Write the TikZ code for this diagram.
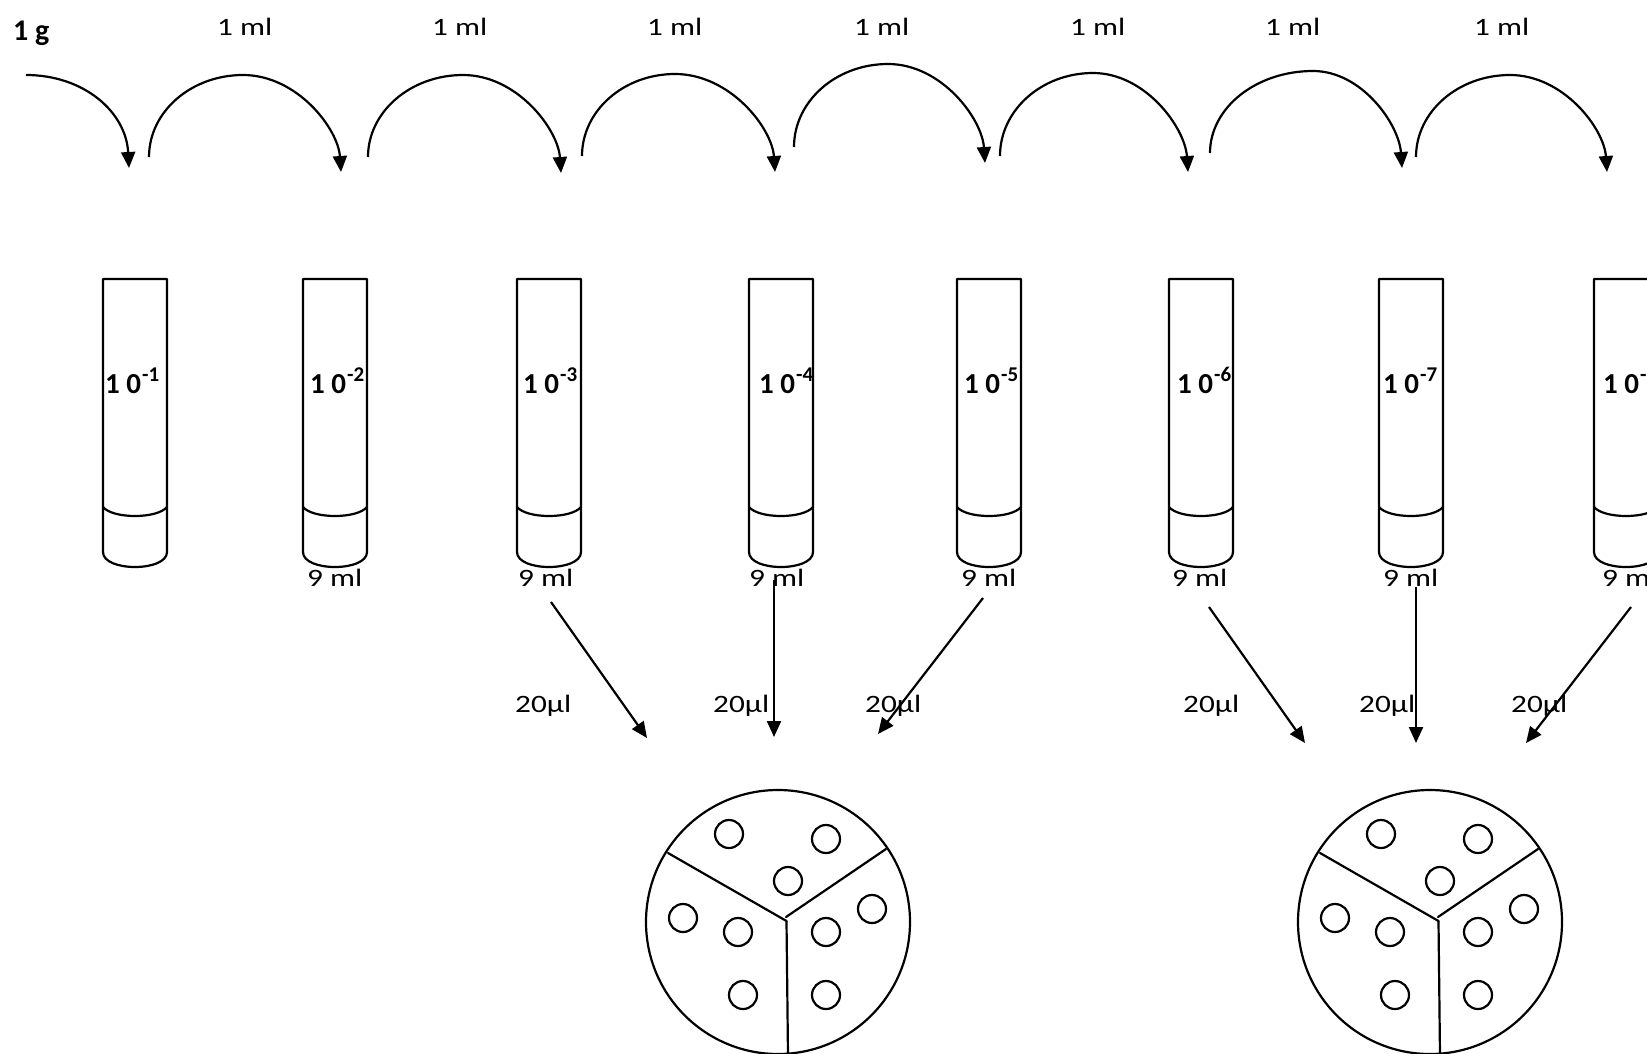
\documentclass[tikz,border=0pt]{standalone}
\usepackage{fontspec}
\setmainfont{Carlito}
\newfontfamily\lblfont{Carlito}[FakeStretch=1.25]
\usetikzlibrary{arrows.meta}
\tikzset{
  ln/.style={line width=2.2pt, line cap=round, line join=round},
  arr/.style={line width=2.2pt, -{Triangle[length=16pt,width=14pt]}},
  mltext/.style={anchor=base west, inner sep=0pt, font=\lblfont\fontsize{25}{30}\selectfont},
  tubelbl/.style={anchor=base west, inner sep=0pt, font=\bfseries\fontsize{29}{32}\selectfont},
  colony/.style={line width=2.2pt},
}
\newcommand\mytube[4]{%
  \draw[ln] (#2,552) -- (#2,279) -- ({#2+64},279) -- ({#2+64},552)
     .. controls ({#2+64},572) and (#2,572) .. (#2,552);
  \draw[ln] (#2,507) .. controls ({#2+10},519) and ({#2+54},519) .. ({#2+64},507);
  \node[tubelbl] (#1) at (#4,393) {1 0\hspace{1pt}\raisebox{12pt}{\fontsize{21}{22}\selectfont -#3}};
}
\newcommand\myarc[7]{%
  \coordinate (#1s) at (#2,#3);
  \coordinate (#1e) at (#6,#7);
  \draw[arr] (#1s) .. controls (#2,{#3-0.552*(#3-#5)}) and ({#4-0.552*(#4-#2)},#5) .. (#4,#5)
     .. controls ({#4+0.552*(#6-#4)},#5) and ({#6-3},{#5+0.552*(#7-#5)}) .. (#1e);
}
\newcommand\mydish[2]{%
  \begin{scope}[xshift=#2pt]
    \node[circle, draw, line width=2.2pt, minimum size=264pt, inner sep=0pt] (#1) at (778,922) {};
    \coordinate (#1c) at (786.5,921);
    \coordinate (#1l) at (668,853);
    \coordinate (#1r) at (886,849);
    \coordinate (#1b) at (788,1056);
    \draw[ln] (#1l) -- (#1c);
    \draw[ln] (786,917) -- (#1r);
    \draw[ln] (#1c) -- (#1b);
    \foreach \cx/\cy in {729/834, 826/839, 788/881, 683/918, 738/932, 872/909, 826/932, 743/995, 826/995}
      \draw[colony] (\cx,\cy) circle (14pt);
  \end{scope}
}
\begin{document}
\begin{tikzpicture}[x=1pt,y=-1pt]
\useasboundingbox (0,0) rectangle (1647,1053);
\fill[white] (0,0) rectangle (1647,1053);

% top labels
\node[anchor=base west, inner sep=0pt, font=\bfseries\fontsize{30}{32}\selectfont] (g) at (13,40) {1 g};
\foreach \x [count=\i] in {220,435,650,857,1073,1268,1477}
  \node[mltext] (ml\i) at ({\x-3},35) {1 ml};

% transfer arcs
\coordinate (a1s) at (26,75);
\coordinate (a1e) at (129,168);
\draw[arr] (a1s) .. controls (84,75) and (126,112) .. (a1e);
\myarc{a2}{149}{157}{243}{75}{341}{172}
\myarc{a3}{368}{157}{463}{75}{561}{173}
\myarc{a4}{582}{156}{675}{74}{775}{172}
\myarc{a5}{794}{147}{888}{64}{985}{163}
\myarc{a6}{1000}{156}{1093}{73}{1188}{172}
\myarc{a7}{1210}{153}{1313}{71}{1402}{168}
\myarc{a8}{1416}{157}{1510}{75}{1607}{172}

% tubes
\mytube{t1}{103}{1}{105}
\mytube{t2}{303}{2}{310}
\mytube{t3}{517}{3}{523}
\mytube{t4}{749}{4}{759}
\mytube{t5}{957}{5}{964}
\mytube{t6}{1169}{6}{1177}
\mytube{t7}{1379}{7}{1383}
\mytube{t8}{1594}{8}{1603}

% 9 ml labels
\foreach \x [count=\i from 2] in {309,520,751,963,1174,1385,1604}
  \node[mltext] (nine\i) at ({\x-2},586) {9 ml};

% 20 ul labels
\foreach \x [count=\i] in {517,715,867,1185,1361,1513}
  \node[mltext] (ul\i) at ({\x-2},712) {20µl};

% plating arrows
\coordinate (p1s) at (551,602);  \coordinate (p1e) at (647,738);
\coordinate (p2s) at (774,580);  \coordinate (p2e) at (774,737);
\coordinate (p3s) at (983,598);  \coordinate (p3e) at (878,734);
\coordinate (p4s) at (1209,607); \coordinate (p4e) at (1305,743);
\coordinate (p5s) at (1416,587); \coordinate (p5e) at (1416,743);
\coordinate (p6s) at (1631,607); \coordinate (p6e) at (1526,743);
\foreach \i in {1,...,6}
  \draw[arr] (p\i s) -- (p\i e);

% plates
\mydish{d1}{0}
\mydish{d2}{652}
\end{tikzpicture}
\end{document}
